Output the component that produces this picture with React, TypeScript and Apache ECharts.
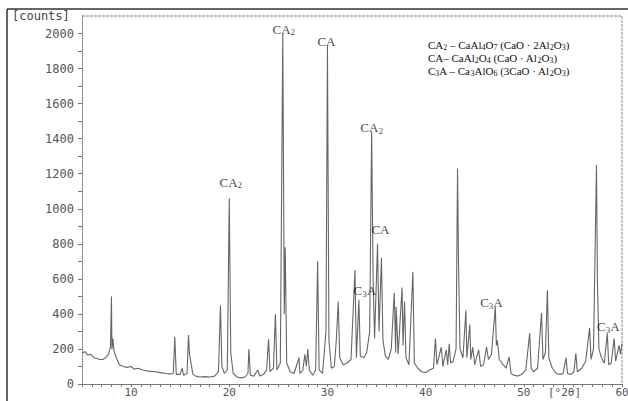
import React, { useEffect, useRef } from "react";
import * as echarts from "echarts";

// XRD pattern: [2θ (deg), intensity (counts)]
const pattern: [number, number][] = [
  [5.0, 175], [5.3, 185], [5.6, 165], [5.9, 170], [6.2, 150], [6.5, 145], [6.8, 140], [7.1, 140],
  [7.4, 150], [7.7, 170], [7.9, 210], [8.0, 500], [8.05, 200], [8.15, 260], [8.25, 190], [8.5, 150],
  [8.8, 110], [9.2, 100], [9.6, 95], [10.0, 100], [10.3, 85], [10.7, 90], [11.2, 80], [11.6, 75],
  [12.0, 72], [12.5, 70], [13.0, 65], [13.5, 60], [14.0, 58], [14.3, 60], [14.45, 270], [14.6, 55],
  [15.0, 55], [15.2, 90], [15.35, 50], [15.7, 60], [15.85, 280], [15.95, 170], [16.1, 120], [16.3, 55],
  [16.6, 45], [17.0, 40], [17.5, 42], [18.0, 40], [18.5, 45], [18.9, 70], [19.1, 450], [19.25, 100],
  [19.5, 60], [19.8, 80], [20.0, 1060], [20.15, 180], [20.4, 60], [20.8, 40], [21.2, 35], [21.6, 40],
  [21.9, 60], [22.0, 200], [22.15, 50], [22.5, 45], [22.9, 80], [23.1, 45], [23.5, 55], [23.8, 80],
  [24.0, 255], [24.15, 70], [24.5, 90], [24.7, 400], [24.85, 80], [25.2, 120], [25.45, 2000], [25.6, 400],
  [25.7, 780], [25.85, 120], [26.2, 70], [26.6, 60], [27.1, 150], [27.2, 60], [27.5, 80], [27.7, 170],
  [27.85, 100], [28.0, 200], [28.15, 80], [28.5, 50], [28.8, 80], [29.0, 700], [29.15, 80], [29.5, 60],
  [29.85, 300], [30.0, 1930], [30.15, 250], [30.4, 90], [30.7, 100], [30.9, 250], [31.1, 470], [31.25, 150],
  [31.6, 110], [32.0, 120], [32.4, 140], [32.8, 650], [32.95, 150], [33.2, 480], [33.35, 160], [33.7, 150],
  [34.0, 180], [34.3, 300], [34.5, 1440], [34.65, 600], [34.8, 260], [35.1, 800], [35.25, 300], [35.5, 720],
  [35.65, 250], [35.9, 160], [36.2, 140], [36.5, 200], [36.8, 520], [36.95, 180], [37.0, 440], [37.2, 170],
  [37.6, 550], [37.7, 220], [37.85, 470], [38.0, 150], [38.3, 110], [38.7, 640], [38.85, 120], [39.2, 90],
  [39.6, 70], [40.0, 65], [40.4, 80], [40.8, 90], [41.0, 260], [41.15, 110], [41.6, 210], [41.75, 100],
  [42.1, 195], [42.25, 110], [42.4, 230], [42.55, 120], [42.8, 130], [43.1, 200], [43.25, 1230], [43.35, 690],
  [43.5, 200], [43.8, 150], [44.1, 420], [44.2, 150], [44.5, 340], [44.6, 140], [44.8, 210], [45.0, 110],
  [45.4, 195], [45.6, 100], [45.9, 110], [46.2, 210], [46.4, 140], [46.7, 170], [47.1, 440], [47.2, 220],
  [47.3, 250], [47.5, 140], [47.9, 110], [48.2, 90], [48.5, 155], [48.7, 60], [49.0, 50], [49.4, 45],
  [49.8, 55], [50.2, 80], [50.6, 290], [50.75, 90], [51.0, 70], [51.4, 90], [51.8, 405], [51.95, 140],
  [52.2, 180], [52.4, 535], [52.55, 150], [52.9, 90], [53.3, 60], [53.7, 55], [54.0, 60], [54.3, 150],
  [54.45, 60], [54.8, 55], [55.1, 70], [55.3, 175], [55.45, 70], [55.9, 90], [56.3, 130], [56.7, 320],
  [56.85, 140], [57.1, 200], [57.4, 1250], [57.5, 575], [57.65, 200], [57.9, 150], [58.2, 120], [58.5, 290],
  [58.65, 110], [58.9, 120], [59.2, 260], [59.35, 130], [59.7, 220], [59.85, 170], [60.0, 230],
];

// Phase labels placed over peaks ({s|..} = subscript)
const peakLabelNames = ["CA{s|2}", "CA{s|2}", "CA", "CA{s|2}", "CA", "C{s|3}A", "C{s|3}A", "C{s|3}A"];
const peakLabelX = [20.15, 25.55, 29.9, 34.5, 35.4, 33.8, 46.7, 58.6];
const peakLabelY = [1150, 2023, 1954, 1463, 880, 531, 463, 326];

const legendLines = [
  "CA{s|2} – CaAl{s|4}O{s|7} (CaO · 2Al{s|2}O{s|3})",
  "CA– CaAl{s|2}O{s|4} (CaO · Al{s|2}O{s|3})",
  "C{s|3}A – Ca{s|3}AlO{s|6} (3CaO · Al{s|2}O{s|3})",
];

const xLabelValues = [10, 20, 30, 40, 50, 60];
const xTickValues = Array.from({ length: 56 }, (_, i) => 5 + i);
const yLabelValues = [0, 200, 400, 600, 800, 1000, 1200, 1400, 1600, 1800, 2000];
const yTickValues = Array.from({ length: 21 }, (_, i) => i * 100);

const MONO = "'DejaVu Sans Mono', monospace";
const SERIF = "'Liberation Serif', 'DejaVu Serif', serif";

export default function App() {
  const ref = useRef<HTMLDivElement>(null);
  useEffect(() => {
    document.body.style.margin = "0";
    if (!ref.current) return;
    const chart = echarts.init(ref.current, null, { renderer: "svg" });
    const peakRich = {
      s: { fontFamily: SERIF, fontSize: 9, color: "#111", lineHeight: 15, verticalAlign: "bottom" },
    };
    const legendRich = {
      s: { fontFamily: SERIF, fontSize: 8, color: "#111", lineHeight: 13, verticalAlign: "bottom" },
    };
    chart.setOption({
      animation: false,
      backgroundColor: "#ffffff",
      grid: {
        left: 82, right: 6, top: 16, bottom: 17,
        containLabel: false, outerBoundsMode: "none", show: false,
      },
      xAxis: {
        type: "value",
        min: 5,
        max: 60,
        axisLine: { show: true, lineStyle: { color: "#777", width: 1 } },
        axisTick: { show: true, length: 3, customValues: xTickValues, lineStyle: { color: "#777" } },
        axisLabel: {
          customValues: xLabelValues,
          formatter: (v: number) => String(v),
          fontFamily: MONO,
          fontSize: 11,
          color: "#555",
          margin: 3,
        },
        splitLine: { show: false },
      },
      yAxis: {
        type: "value",
        min: 0,
        max: 2100,
        axisLine: { show: true, lineStyle: { color: "#888", width: 1, type: [2, 1] } },
        axisTick: { show: true, length: 4, customValues: yTickValues, lineStyle: { color: "#777" } },
        axisLabel: {
          customValues: yLabelValues,
          formatter: (v: number) => String(v),
          fontFamily: MONO,
          fontSize: 12,
          color: "#555",
          margin: 8,
        },
        splitLine: { show: false },
      },
      series: [
        {
          type: "line",
          data: pattern,
          symbol: "none",
          lineStyle: { color: "#666666", width: 1.1 },
          z: 2,
        },
        {
          type: "scatter",
          data: peakLabelX.map((x, i) => [x, peakLabelY[i], peakLabelNames[i]]),
          symbolSize: 0,
          silent: true,
          label: {
            show: true,
            position: "inside",
            formatter: (p: any) => p.data[2],
            fontFamily: SERIF,
            fontSize: 13,
            lineHeight: 15,
            color: "#111",
            rich: peakRich,
          },
          z: 5,
        },
      ],
      graphic: [
        { type: "line", shape: { x1: 7, y1: 9, x2: 628, y2: 9 }, style: { stroke: "#333", lineWidth: 1.5 } },
        { type: "line", shape: { x1: 7, y1: 9, x2: 7, y2: 401 }, style: { stroke: "#333", lineWidth: 1.5 } },
        { type: "line", shape: { x1: 82, y1: 16, x2: 622, y2: 16 }, style: { stroke: "#777", lineWidth: 1, lineDash: [3, 1] } },
        { type: "line", shape: { x1: 622, y1: 16, x2: 622, y2: 384 }, style: { stroke: "#888", lineWidth: 1, lineDash: [3, 1] } },
        { type: "text", left: 12, top: 10, style: { text: "[counts]", font: `12px ${MONO}`, fill: "#444" } },
        { type: "text", left: 548, top: 387, style: { text: "[°2θ]", font: `11px ${MONO}`, fill: "#555" } },
        ...legendLines.map((t, i) => ({
          type: "text",
          left: 428,
          top: 38 + i * 13,
          style: {
            text: t,
            fontFamily: SERIF,
            fontSize: 11,
            lineHeight: 13,
            fill: "#111",
            rich: legendRich,
          },
        })),
      ],
    });
    return () => chart.dispose();
  }, []);
  return <div ref={ref} style={{ width: 628, height: 401 }} />;
}
